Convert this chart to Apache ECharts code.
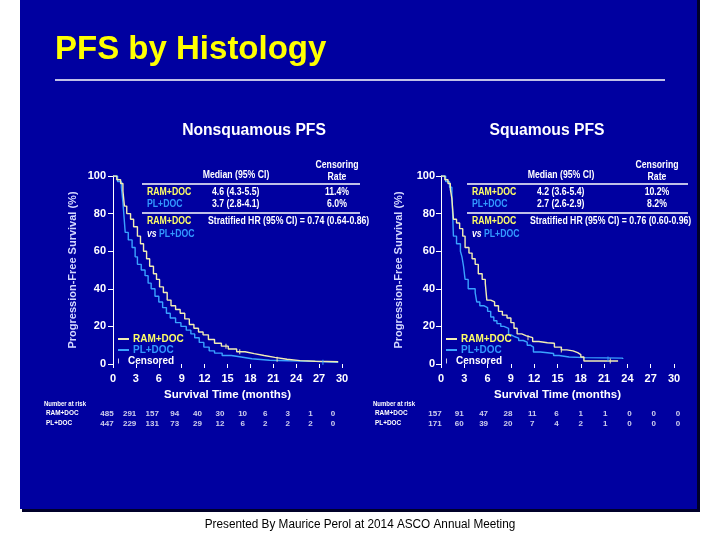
<!DOCTYPE html>
<html>
<head>
<meta charset="utf-8">
<script src="https://cdn.jsdelivr.net/npm/echarts@6.0.0/dist/echarts.min.js"></script>
<style>
  html, body { margin: 0; padding: 0; background: #ffffff; }
  #chart { width: 720px; height: 540px; }
</style>
</head>
<body>
<div id="chart"></div>
<script>
// ---- data ----
const xTicks = [0, 3, 6, 9, 12, 15, 18, 21, 24, 27, 30];

// Nonsquamous PFS (time in months, survival in %)
const nsqRamT = [0, 0.5, 1.0, 1.3, 1.5, 1.8, 2.3, 2.7, 3.2, 3.6, 4.0, 4.4, 4.8, 5.3, 5.7, 6.1, 6.6, 7.1, 7.6, 8.2, 8.8, 9.4, 10.0, 10.6, 11.2, 11.8, 12.5, 13.3, 14.2, 15.1, 16.2, 17.3, 18.5, 19.8, 21.2, 22.8, 24.5, 26.5, 29.5];
const nsqRamS = [100, 98, 96, 92, 84, 80, 77, 73, 68, 64, 60, 56, 52, 48, 45, 41, 38, 34, 31, 29, 27, 24, 21, 19, 17, 15.5, 13, 11, 9.5, 8, 6.5, 5.5, 4.5, 3.5, 2.5, 1.8, 1.5, 1.2, 1.0];
const nsqPlT = [0, 0.6, 1.1, 1.3, 1.45, 1.6, 2.0, 2.5, 2.9, 3.2, 3.7, 4.2, 4.6, 5.0, 5.5, 6.0, 6.5, 7.0, 7.5, 8.2, 8.9, 9.6, 10.2, 10.7, 11.3, 11.9, 12.6, 13.3, 14.3, 15.5, 16.8, 18.2, 20.5, 23.0, 26.5, 29.5];
const nsqPlS = [100, 97, 94, 86, 78, 70, 66, 62, 57, 53, 50, 47, 43, 40, 36, 33, 30, 27, 24.5, 22, 20, 18, 16, 14, 11.5, 9, 7, 5.8, 4.5, 3.7, 2.8, 2, 1.7, 1.4, 0.9, 0.8];
const nsqCensRam = [[14.8, 9.5], [16.6, 6.5], [21.5, 2.5]];
const nsqCensPl = [[27.5, 0.9]];

// Squamous PFS
const sqRamT = [0, 0.5, 0.9, 1.2, 1.4, 1.6, 2.0, 2.4, 2.8, 3.1, 3.6, 4.0, 4.4, 4.8, 5.3, 5.7, 5.9, 6.4, 6.9, 7.4, 7.9, 8.5, 9.0, 9.4, 9.8, 10.4, 11.0, 11.8, 12.6, 13.7, 14.6, 15.5, 16.2, 17.0, 17.6, 18.0, 18.4, 22.8];
const sqRamS = [100, 98, 96, 93, 88, 77, 75, 72, 68, 62, 59, 56, 53, 48, 45, 43, 34, 33, 31, 28, 26, 24.5, 22, 19, 16, 15, 14, 12, 11.3, 11, 9, 7.5, 7, 6, 5, 3.7, 1.6, 1.6];
const sqPlT = [0, 0.6, 1.1, 1.4, 1.5, 1.6, 2.0, 2.5, 2.7, 2.9, 3.1, 3.5, 4.4, 4.6, 5.0, 5.5, 6.0, 6.4, 6.8, 7.2, 7.7, 8.1, 8.7, 9.1, 9.5, 10.0, 10.6, 11.1, 11.5, 11.9, 12.8, 13.7, 14.5, 15.2, 16.5, 18.5, 23.4];
const sqPlS = [100, 97, 94, 90, 80, 68, 64, 60, 57, 52, 45, 40, 38, 33, 31, 30, 28, 25, 23, 21.5, 20, 19, 15.4, 14.5, 13.8, 12.5, 11.6, 10, 9, 6.4, 6, 5.6, 4.5, 3.7, 3.4, 3.1, 2.7];
const sqCensRam = [[11.2, 14], [15.5, 7.5], [21.8, 1.6]];
const sqCensPl = [[21.5, 2.7]];

// Number at risk
const riskRows = ['RAM+DOC', 'PL+DOC'];
const nsqRiskRam = [485, 291, 157, 94, 40, 30, 10, 6, 3, 1, 0];
const nsqRiskPl = [447, 229, 131, 73, 29, 12, 6, 2, 2, 2, 0];
const sqRiskRam = [157, 91, 47, 28, 11, 6, 1, 1, 0, 0, 0];
const sqRiskPl = [171, 60, 39, 20, 7, 4, 2, 1, 0, 0, 0];

// in-plot summary tables
const nsqMedian = ['4.6 (4.3-5.5)', '3.7 (2.8-4.1)'];
const nsqCensRate = ['11.4%', '6.0%'];
const nsqHR = 'Stratified HR (95% CI) = 0.74 (0.64-0.86)';
const sqMedian = ['4.2 (3.6-5.4)', '2.7 (2.6-2.9)'];
const sqCensRate = ['10.2%', '8.2%'];
const sqHR = 'Stratified HR (95% CI) = 0.76 (0.60-0.96)';

// ---- helpers ----
const RAM_COL = '#f2eeb4';
const PL_COL = '#3aa2ff';
const RAM_TXT = '#ffff66';
const PL_TXT = '#3399ff';
const FONT = 'Liberation Sans';

function zip (t, s) {
    return t.map((v, i) => [v, s[i]])
}
function riskData (vals, row) {
    return vals.map((v, i) => [xTicks[i], row, v])
}
function txt (x, y, s, color, size, align, sx, weight) {
    return {
        type: 'text', x: x, y: y, z: 20, scaleX: sx || 1, silent: true,
        style: {
            text: s, fill: color, textAlign: align || 'left', textVerticalAlign: 'middle',
            font: (weight || 'bold') + ' ' + size + 'px "' + FONT + '"'
        }
    }
}
function hline (x1, x2, y) {
    return { type: 'line', z: 20, silent: true, shape: { x1: x1, y1: y, x2: x2, y2: y }, style: { stroke: '#ffffff', lineWidth: 1.5 } }
}
function summaryTable (x0, xMed, xRate, xHR, med, rate, hr, lineEnd) {
    const s = 0.87;
    return [
        txt(xRate, 165, 'Censoring', '#ffffff', 10, 'center', s),
        txt(xRate, 177, 'Rate', '#ffffff', 10, 'center', s),
        txt(xMed + 24, 175, 'Median (95% CI)', '#ffffff', 10, 'center', s),
        hline(x0 - 5, lineEnd, 184),
        txt(x0, 192, 'RAM+DOC', RAM_TXT, 10, 'left', s),
        txt(xMed, 192, med[0], '#ffffff', 10, 'left', s),
        txt(xRate, 192, rate[0], '#ffffff', 10, 'center', s),
        txt(x0, 204, 'PL+DOC', PL_TXT, 10, 'left', s),
        txt(xMed, 204, med[1], '#ffffff', 10, 'left', s),
        txt(xRate, 204, rate[1], '#ffffff', 10, 'center', s),
        hline(x0 - 5, lineEnd, 213),
        txt(x0, 221, 'RAM+DOC', RAM_TXT, 10, 'left', s),
        txt(xHR, 221, hr, '#ffffff', 10, 'left', s),
        txt(x0, 234, 'vs', '#ffffff', 10, 'left', s, 'italic bold'),
        txt(x0 + 12, 234, 'PL+DOC', PL_TXT, 10, 'left', s)
    ]
}
function riskLabels (x, y) {
    return [
        txt(x, y, 'Number at risk', '#ffffff', 8, 'left', 0.75),
        txt(x + 2, y + 9, 'RAM+DOC', '#ffffff', 8, 'left', 0.8),
        txt(x + 2, y + 19, 'PL+DOC', '#ffffff', 8, 'left', 0.8)
    ]
}

const axisText = { color: '#ffffff', fontWeight: 'bold', fontSize: 11, fontFamily: FONT };

function kmX (idx) {
    return {
        type: 'value', gridIndex: idx, min: 0, max: 30, interval: 3, offset: 4,
        axisLine: { show: false },
        axisTick: { show: true, length: 4, lineStyle: { color: '#ffffff', width: 1 } },
        axisLabel: Object.assign({ margin: 5 }, axisText),
        splitLine: { show: false },
        name: 'Survival Time (months)', nameLocation: 'middle', nameGap: 21,
        nameTextStyle: { color: '#ffffff', fontWeight: 'bold', fontSize: 11.5, fontFamily: FONT }
    }
}
function kmY (idx, off, gap) {
    return {
        type: 'value', gridIndex: idx, min: 0, max: 100, interval: 20, offset: off,
        axisLine: { show: true, lineStyle: { color: '#ffffff', width: 1 } },
        axisTick: { show: true, length: 5, lineStyle: { color: '#ffffff', width: 1 } },
        axisLabel: Object.assign({ margin: 3 }, axisText),
        splitLine: { show: false },
        name: 'Progression-Free Survival (%)', nameLocation: 'middle', nameRotate: 90, nameGap: gap,
        nameTextStyle: { color: '#d4d8ff', fontWeight: 'bold', fontSize: 11, fontFamily: FONT }
    }
}
function riskX (idx) {
    return { type: 'value', gridIndex: idx, min: 0, max: 30, show: false }
}
function riskY (idx) {
    return { type: 'category', gridIndex: idx, data: riskRows, inverse: true, show: false }
}
function km (name, idx, data, color) {
    return {
        name: name, type: 'line', step: 'end', xAxisIndex: idx, yAxisIndex: idx,
        data: data, showSymbol: false, symbol: 'none', animation: false,
        lineStyle: { color: color, width: 1.4 }, itemStyle: { color: color }
    }
}
function cens (idx, ram, pl) {
    return {
        name: 'Censored', type: 'scatter', xAxisIndex: idx, yAxisIndex: idx, z: 5,
        symbol: 'rect', symbolSize: [1.2, 5], animation: false,
        itemStyle: { color: '#ffffff' },
        data: ram.map(p => ({ value: p, itemStyle: { color: RAM_COL } }))
            .concat(pl.map(p => ({ value: p, itemStyle: { color: PL_COL } })))
    }
}
function risk (idx, vals, row) {
    return {
        type: 'scatter', xAxisIndex: idx, yAxisIndex: idx, symbolSize: 0, animation: false,
        data: riskData(vals, row), silent: true,
        label: {
            show: true, position: 'inside', formatter: p => String(p.value[2]),
            color: '#ffffff', fontSize: 8, fontWeight: 'bold', fontFamily: FONT
        }
    }
}
function lineLegend (left) {
    return {
        left: left, top: 329, orient: 'vertical', itemGap: 1, itemWidth: 11, itemHeight: 2,
        icon: 'rect', selectedMode: false,
        textStyle: { fontWeight: 'bold', fontSize: 10, fontFamily: FONT, padding: [0, 0, 0, -1] },
        data: [
            { name: 'RAM+DOC', textStyle: { color: RAM_TXT } },
            { name: 'PL+DOC', textStyle: { color: PL_TXT } }
        ]
    }
}
function censLegend (left) {
    return {
        left: left, top: 351, orient: 'vertical', itemWidth: 11, itemHeight: 5,
        icon: 'path://M5,0L6,0L6,5L5,5Z', selectedMode: false,
        textStyle: { color: '#ffffff', fontWeight: 'bold', fontSize: 10, fontFamily: FONT, padding: [0, 0, 0, -1] },
        data: [{ name: 'Censored', itemStyle: { color: '#ffffff' } }]
    }
}

const chart = echarts.init(document.getElementById('chart'));

chart.setOption({
    backgroundColor: '#ffffff',
    animation: false,
    textStyle: { fontFamily: FONT },
    grid: [
        { left: 113, top: 176, width: 229, height: 188 },
        { left: 441, top: 176, width: 233, height: 188 },
        { left: 107, top: 409, width: 226, height: 20 },
        { left: 435, top: 409, width: 243, height: 20 }
    ],
    xAxis: [kmX(0), kmX(1), riskX(2), riskX(3)],
    yAxis: [kmY(0, 4, 31), kmY(1, 3, 34), riskY(2), riskY(3)],
    legend: [lineLegend(113), censLegend(113), lineLegend(441), censLegend(441)],
    series: [
        km('PL+DOC', 0, zip(nsqPlT, nsqPlS), PL_COL),
        km('RAM+DOC', 0, zip(nsqRamT, nsqRamS), RAM_COL),
        cens(0, nsqCensRam, nsqCensPl),
        km('PL+DOC', 1, zip(sqPlT, sqPlS), PL_COL),
        km('RAM+DOC', 1, zip(sqRamT, sqRamS), RAM_COL),
        cens(1, sqCensRam, sqCensPl),
        risk(2, nsqRiskRam, 'RAM+DOC'),
        risk(2, nsqRiskPl, 'PL+DOC'),
        risk(3, sqRiskRam, 'RAM+DOC'),
        risk(3, sqRiskPl, 'PL+DOC')
    ],
    graphic: [
        // slide panel + shadow
        { type: 'rect', z: -20, silent: true, shape: { x: 22, y: 0, width: 678, height: 512 }, style: { fill: '#00002a' } },
        { type: 'rect', z: -10, silent: true, shape: { x: 20, y: 0, width: 677, height: 509 }, style: { fill: '#0000a0' } },
        txt(55, 50, 'PFS by Histology', '#ffff00', 33, 'left'),
        hline(55, 665, 80),
        txt(254, 131, 'Nonsquamous PFS', '#ffffff', 16, 'center', 0.98),
        txt(547, 131, 'Squamous PFS', '#ffffff', 16, 'center', 0.98),
        txt(360, 525, 'Presented By Maurice Perol at 2014 ASCO Annual Meeting', '#000000', 12, 'center', 0.98, 'normal')
    ]
        .concat(summaryTable(147, 212, 337, 208, nsqMedian, nsqCensRate, nsqHR, 360))
        .concat(summaryTable(472, 537, 657, 530, sqMedian, sqCensRate, sqHR, 688))
        .concat(riskLabels(44, 404))
        .concat(riskLabels(373, 404))
});
</script>
</body>
</html>
